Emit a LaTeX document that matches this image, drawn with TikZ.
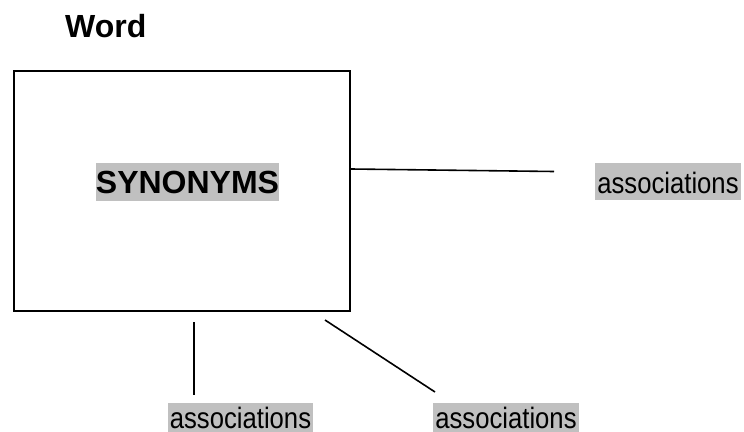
\documentclass[tikz,border=0pt]{standalone}
\usepackage{graphicx}
\usepackage{fontspec}
\setmainfont{Liberation Sans}
\definecolor{hilite}{RGB}{192,192,192}
\newcommand{\assoctext}{\scalebox{0.87}[1]{associations}}
\begin{document}
\begin{tikzpicture}[x=1pt, y=-1pt, line join=miter]
                \tikzstyle{title} = [inner sep=0pt, anchor=base west, font=\fontsize{32}{38}\selectfont\bfseries]
                \tikzstyle{wordbox} = [draw, line width=2pt, minimum width=336pt, minimum height=240pt, inner sep=0pt]
                \tikzstyle{heading} = [fill=hilite, inner xsep=0pt, inner ysep=0pt, text height=30pt, text depth=8pt, font=\fontsize{32}{38}\selectfont\bfseries]
                \tikzstyle{assoc} = [fill=hilite, inner xsep=2pt, inner ysep=0pt, text height=30pt, text depth=7pt, font=\fontsize{29.5}{37}\selectfont]
                \tikzstyle{link} = [line width=1.6pt]

                \useasboundingbox (0,0) rectangle (744,431);

                % Title and main box
                \node[title] (word) at (65,37) {Word};
                \node[wordbox] (box) at (182,191) {};
                \node[heading] (syn) at (187.5,182) {SYNONYMS};

                % Association labels
                \node[assoc, anchor=north] (a1) at (668,163) {\assoctext};
                \node[assoc, anchor=north, text height=25.5pt] (a2) at (240.5,402.5) {\assoctext};
                \node[assoc, anchor=north, text height=25.5pt] (a3) at (506,402.5) {\assoctext};

                % Free line ends
                \coordinate (r0) at (box.east |- 0,169);
                \coordinate (r1) at (554,171.5);
                \coordinate (b0) at (194,322);
                \coordinate (b1) at (194,395);
                \coordinate (d0) at (325,320);
                \coordinate (d1) at (435,392);

                \draw[link] (r0) -- (r1);
                \draw[link] (b0) -- (b1);
                \draw[link] (d0) -- (d1);
            \end{tikzpicture}
\end{document}
